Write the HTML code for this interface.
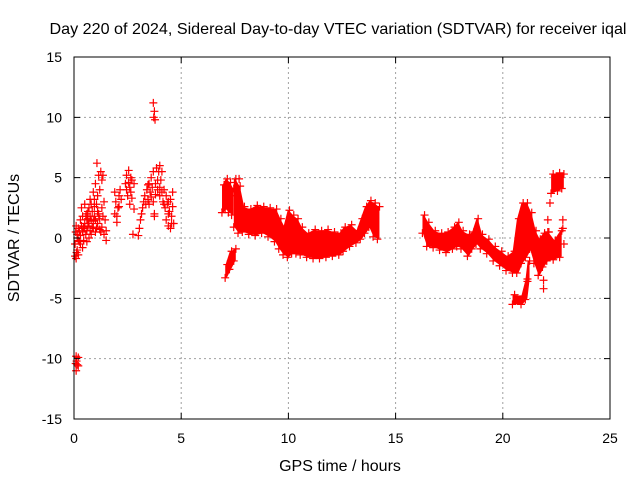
<!DOCTYPE html>
<html><head><meta charset="utf-8"><style>
body{margin:0;background:#fff}
svg{display:block;font-family:"Liberation Sans",sans-serif}
</style></head><body>
<svg id="c" width="640" height="480">
<text x="338" y="34" text-anchor="middle" font-size="16" textLength="577" lengthAdjust="spacingAndGlyphs">Day 220 of 2024, Sidereal Day-to-day VTEC variation (SDTVAR) for receiver iqal</text>
<text x="340" y="471" text-anchor="middle" font-size="16">GPS time / hours</text>
<text transform="translate(19,238) rotate(-90)" text-anchor="middle" font-size="16">SDTVAR / TECUs</text>
<g id="grid"></g><g id="marks"></g><g id="axes"></g>
</svg>
<script>
const xTicks=[0,5,10,15,20,25];
const yTicks=[-15,-10,-5,0,5,10,15];
const scatterPoints=[[0.05,-1.5],[0.05,-0.5],[0.08,0.5],[0.1,1],[0.12,-1.2],[0.15,0],[0.1,-1.7],[0.2,0.8],[0.25,-0.3],[0.3,1.5],[0.3,0.2],[0.35,2.5],[0.4,0.5],[0.4,-0.8],[0.4,1.8],[0.45,-0.2],[0.5,1.2],[0.5,2.8],[0.55,0.3],[0.6,2],[0.6,-0.3],[0.65,1],[0.7,2.5],[0.7,0],[0.75,3.2],[0.8,1.5],[0.8,0.3],[0.85,2.2],[0.9,3.8],[0.9,0.8],[0.95,1.8],[1.0,4.5],[1.0,0.5],[1.05,2.8],[1.07,6.2],[1.1,1.2],[1.1,3.5],[1.15,5.2],[1.2,4],[1.2,0.7],[1.25,5.5],[1.3,2.5],[1.3,4.8],[1.35,5.2],[1.4,3],[1.45,1.5],[1.5,0.6],[1.5,-0.2],[1.4,0.3],[0.6,1.5],[0.7,1.2],[0.5,0.8],[0.85,0.9],
[0.15,0.3],[0.2,-0.2],[0.25,0.6],[0.3,-0.5],[0.35,1.0],[0.45,0.9],[0.55,1.8],[0.6,0.6],[0.65,2.2],[0.75,1.8],[0.75,0.6],[0.8,2.8],[0.9,1.4],[0.95,2.6],[1.0,1.5],[1.05,0.8],[1.15,2.0],[1.2,1.6],[1.3,0.9],[1.35,1.8],[0.15,-1.0],[0.2,-1.4],[0.65,1.6],[0.95,3.2],[1.1,2.2],[1.25,0.5],
[0.1,-9.8],[0.12,-10.2],[0.15,-10.5],[0.1,-11],[0.2,-9.9],[0.2,-10.6],[0.08,-10.4],
[1.9,3.8],[1.95,3],[1.9,2],[2.0,1.3],[2.05,2.5],[2.1,3.5],[2.15,4],[2.0,1.8],[2.2,3.2],[2.4,4.5],[2.45,5.2],[2.5,3.5],[2.55,5.6],[2.6,4.2],[2.6,2.8],[2.65,5],[2.7,4.8],[2.7,3.3],[2.75,0.3],[2.8,2.4],[2.8,4.5],[3.0,0.2],[3.05,0.8],[3.1,1.5],[3.15,2],[3.2,2.5],[3.25,3],[3.3,3.5],[3.35,2.8],[3.4,4],[3.45,3.2],[3.5,4.5],[3.55,3.8],[3.6,5],[3.65,4.2],[3.7,3],[3.7,5.5],[3.75,2],[3.75,1.8],[3.8,4.5],[3.85,5.8],[3.9,4],[3.95,5.5],[4.0,6],[4.0,3.5],[4.05,4.8],[4.1,5.5],[4.15,3],[4.2,4],[4.25,2.5],[4.3,3.5],[4.3,1.5],[4.35,2.8],[4.4,1],[4.45,2.2],[4.5,3.2],[4.5,0.8],[4.55,1.8],[4.6,2.6],[4.65,1.2],[4.6,3.8],[3.72,10],[3.75,10.5],[3.7,11.2],[3.78,9.8],
[2.45,4.0],[2.55,4.6],[2.65,3.8],[3.6,3.4],[3.8,3.6],[3.9,4.8],[4.0,4.2],[4.1,3.8],[4.2,2.8],[4.4,2.0],[4.4,3.0],[4.55,1.2],[3.5,2.8],[3.45,4.4],[2.1,2.6],
[22.2,2.9],[22.1,1.5],[22.1,0.5],[22.8,1.5],[22.8,0.8],[22.85,-0.5],[21.9,-3.5],[21.9,-4.2],[7.6,3.5],[7.7,4.9]];
const bandC1=[[6.95,2.2,4.3],[7.1,2.5,4.8],[7.25,2.2,4.5],[7.4,2,4]];
const bandC2=[[7.5,1,4.8],[7.7,0.5,4.2],[7.9,0.6,2.5],[8.2,0.4,2.3],[8.5,0.3,2.6],[8.8,0.5,2.5],[9.1,0.2,2.4],[9.4,-0.2,2.3],[9.6,-0.8,1.5],[9.8,-1.3,0.8],[10.0,-1.5,2.2],[10.2,-1.2,1.8],[10.4,-1.2,1.5],[10.6,-1.3,0.8],[10.9,-1.5,0.3],[11.2,-1.6,0.6],[11.5,-1.6,0.5],[11.8,-1.5,0.6],[12.1,-1.4,0.4],[12.4,-1.3,0.3],[12.6,-1.0,0.8],[12.9,-0.6,1.0],[13.2,-0.3,0.5],[13.4,0,1.5],[13.6,0.5,2.5],[13.8,1,3],[14.0,0.2,2.8],[14.2,0,2.5]];
const bandC3=[[7.1,-3.2,-2.3],[7.3,-2.5,-1.2],[7.5,-1.8,-1.0]];
const bandD=[[16.3,0.5,1.8],[16.5,-0.6,1.2],[16.8,-0.7,0.5],[17.1,-0.9,0.3],[17.4,-1.1,0.4],[17.7,-0.8,0.8],[17.9,-0.6,1.2],[18.1,-0.8,0.5],[18.4,-1.4,0.2],[18.6,-0.8,0.4],[18.8,-0.4,1.5],[19.0,-0.8,0.2],[19.3,-1.2,-0.2],[19.6,-1.8,-0.8],[19.9,-2.2,-1.2],[20.2,-2.6,-1.6],[20.5,-2.8,-1.2],[20.7,-2.8,1.5],[20.9,-2.0,2.8],[21.1,-1.5,2.8],[21.3,-0.8,2.0],[21.5,-2.0,0.5],[21.7,-3.0,-0.2],[21.9,-2.3,0.3],[22.1,-1.8,0.4],[22.4,-1.7,-0.3],[22.7,-1.5,0.5]];
const bandD2=[[20.5,-5.4,-4.8],[20.9,-5.4,-4.9],[21.1,-5.0,-3.5],[21.2,-3.5,-2.0]];
const bandD3=[[22.3,3.8,5.2],[22.6,4,5.3],[22.8,4.2,5.2]];
const bands=[bandC1,bandC2,bandC3,bandD,bandD2,bandD3];

const L=74,R=610,T=57,B=419;
const sx=t=>L+(t-0)/(25-0)*(R-L);
const sy=v=>B-(v+15)/30*(B-T);
const NS='http://www.w3.org/2000/svg';
function mk(tag,attrs,parent){const e=document.createElementNS(NS,tag);for(const k in attrs)e.setAttribute(k,attrs[k]);parent.appendChild(e);return e;}
const grid=document.getElementById('grid'),marks=document.getElementById('marks'),axes=document.getElementById('axes');
xTicks.forEach(t=>{
  if(t>0&&t<25){const g=mk('line',{x1:sx(t),x2:sx(t),y1:T,y2:B,stroke:'#a0a0a0','stroke-dasharray':'2,3'},grid);
  
  }
  const tk=mk('path',{d:`M${sx(t)},${B}v-6M${sx(t)},${T}v6`,stroke:'#000'},axes);
  
  
  const lb=mk('text',{x:sx(t),y:B+24,'text-anchor':'middle','font-size':14},axes);lb.textContent=t;
  
  
});
yTicks.forEach(v=>{
  if(v>-15&&v<15){const g=mk('line',{x1:L,x2:R,y1:sy(v),y2:sy(v),stroke:'#a0a0a0','stroke-dasharray':'2,3'},grid);
  
  }
  const tk=mk('path',{d:`M${L},${sy(v)}h6M${R},${sy(v)}h-6`,stroke:'#000'},axes);
  
  
  const lb=mk('text',{x:L-12,y:sy(v)+5,'text-anchor':'end','font-size':14},axes);lb.textContent=v;
  
  
});
const fr=mk('rect',{x:L,y:T,width:R-L,height:B-T,fill:'none',stroke:'#000'},axes);


function plus(t,v){const p=mk('path',{d:`M${sx(t)-4},${sy(v)}h8M${sx(t)},${sy(v)-4}v8`,stroke:'#f00','stroke-width':1.2},marks);
  
  }
bands.forEach(b=>{
  const top=b.map(r=>`${sx(r[0])},${sy(r[2])}`),bot=b.slice().reverse().map(r=>`${sx(r[0])},${sy(r[1])}`);
  const poly=mk('polygon',{points:top.concat(bot).join(' '),fill:'#f00',stroke:'#f00','stroke-width':2,'stroke-linejoin':'round'},marks);
  
  
  b.forEach(r=>{plus(r[0]-0.05,r[1]-0.1);plus(r[0]+0.05,r[2]+0.1);});
});
scatterPoints.forEach(p=>plus(p[0],p[1]));
</script>
</body></html>
